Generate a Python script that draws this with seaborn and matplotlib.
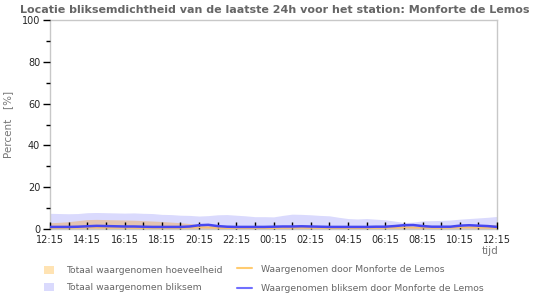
import numpy as np
import pandas as pd
import matplotlib
matplotlib.use("Agg")
import matplotlib.pyplot as plt
from matplotlib.patches import Patch
from matplotlib.lines import Line2D
import seaborn as sns

# half-hour steps from 12:15 to 12:15 next day (hours since start)
hours = [i * 0.5 for i in range(49)]
tick_labels = ["12:15", "14:15", "16:15", "18:15", "20:15", "22:15", "00:15",
               "02:15", "04:15", "06:15", "08:15", "10:15", "12:15"]

total_bliksem = [7.5, 7.4, 7.3, 7.4, 7.8, 7.9, 7.8, 7.7, 7.6, 7.7, 7.5, 7.4,
                 7.0, 6.9, 6.6, 6.5, 6.2, 6.4, 6.8, 6.9, 6.6, 6.3, 5.9, 5.9,
                 5.8, 6.5, 7.1, 7.0, 6.8, 6.5, 6.3, 5.6, 5.0, 4.8, 5.0, 4.7,
                 4.4, 3.8, 3.1, 3.3, 3.9, 4.0, 4.1, 4.3, 4.7, 5.0, 5.3, 5.6, 6.0]
total_hoeveelheid = [3.0, 3.2, 3.5, 4.0, 4.5, 4.6, 4.5, 4.4, 4.3, 4.2, 4.0, 3.8,
                     3.6, 3.3, 3.0, 2.6, 2.2, 2.0, 1.8, 1.5, 1.2, 1.0, 0.8, 0.8,
                     0.8, 1.0, 1.3, 1.3, 1.2, 1.1, 1.0, 0.9, 0.8, 0.8, 0.8, 0.9,
                     0.9, 1.2, 1.5, 1.4, 1.2, 1.1, 1.0, 1.1, 1.3, 1.6, 1.8, 2.0, 2.2]
station_hoeveelheid = [0.5, 0.5, 0.6, 0.6, 0.7, 0.7, 0.6, 0.6, 0.6, 0.5, 0.5, 0.5,
                       0.5, 0.5, 0.5, 0.6, 0.8, 0.7, 0.5, 0.4, 0.4, 0.4, 0.4, 0.4,
                       0.4, 0.5, 0.6, 0.6, 0.5, 0.5, 0.4, 0.4, 0.4, 0.4, 0.4, 0.5,
                       0.5, 0.6, 0.8, 0.7, 0.6, 0.5, 0.5, 0.6, 0.8, 0.8, 0.7, 0.6, 0.5]
station_bliksem = [1.0, 1.0, 1.0, 1.1, 1.3, 1.5, 1.4, 1.3, 1.2, 1.2, 1.1, 1.0,
                   1.0, 1.0, 1.0, 1.2, 1.8, 2.0, 1.4, 1.1, 1.0, 1.0, 1.0, 1.0,
                   1.1, 1.2, 1.2, 1.3, 1.2, 1.1, 1.0, 1.0, 1.0, 1.0, 1.0, 1.1,
                   1.1, 1.4, 1.8, 1.9, 1.4, 1.1, 1.1, 1.1, 1.6, 1.8, 1.6, 1.4, 1.0]

df = pd.DataFrame({"uur": hours, "tb": total_bliksem, "th": total_hoeveelheid,
                   "sh": station_hoeveelheid, "sb": station_bliksem})

sns.set_style("white")
plt.rcParams['font.family'] = ['DejaVu Sans']

fig = plt.figure(figsize=(5.5, 3.0), dpi=100)
ax = fig.add_axes([50/550, 1-229/300, 447/550, 209/300])

lav = "#dadafd"
ora = "#e3c3b0"
ax.fill_between(df["uur"], 0, df["tb"], color=lav, lw=0, zorder=1)
ax.fill_between(df["uur"], 0, df["th"], color=ora, lw=0, zorder=2)
sns.lineplot(data=df, x="uur", y="sh", ax=ax, color="#f5c070", lw=1.2, zorder=3)
sns.lineplot(data=df, x="uur", y="sb", ax=ax, color="#4848f0", lw=1.8, zorder=4)
ax.set_axisbelow(False)

ax.set_xlim(0, 24)
ax.set_ylim(0, 100)
ax.set_xticks(np.arange(0, 25, 2))
ax.set_xticklabels(tick_labels)
ax.set_xticks(np.arange(0, 25, 1), minor=True)
ax.set_yticks(np.arange(0, 101, 20))
ax.set_yticks(np.arange(0, 101, 10), minor=True)
ax.tick_params(axis="x", which="both", direction="in", length=5, width=1,
               color="black", labelsize=7, pad=4, bottom=True)
ax.tick_params(axis="y", which="major", direction="out", length=5, width=1,
               color="black", labelsize=7, pad=2, left=True)
ax.tick_params(axis="y", which="minor", direction="out", length=3, width=1,
               color="black", left=True)
for s in ax.spines.values():
    s.set_color("#c8c8c8")
    s.set_linewidth(1)
ax.set_xlabel("")
ax.set_ylabel("Percent   [%]", color="#777777", fontsize=7.5, labelpad=6)
fig.text(490/550, 1-251/300, "tijd", color="#777777", fontsize=7.5,
         ha="center", va="center")
fig.text(0.5, 1-10/300,
         "Locatie bliksemdichtheid van de laatste 24h voor het station: Monforte de Lemos",
         ha="center", va="center", fontsize=8.0, fontweight="bold", color="#666666")

h1 = [Patch(facecolor="#ffe3b3", edgecolor="none"), Patch(facecolor=lav, edgecolor="none")]
l1 = ["Totaal waargenomen hoeveelheid", "Totaal waargenomen bliksem"]
h2 = [Line2D([], [], color="#ffcc70", lw=1.5), Line2D([], [], color="#7070ff", lw=1.5)]
l2 = ["Waargenomen door Monforte de Lemos", "Waargenomen bliksem door Monforte de Lemos"]
leg1 = fig.legend(h1, l1, loc="center left", bbox_to_anchor=(36/550, 1-279/300),
                  frameon=False, fontsize=6.7, handlelength=1.0, handleheight=1.0,
                  handletextpad=1.3, labelspacing=0.85, labelcolor="#666666")
leg2 = fig.legend(h2, l2, loc="center left", bbox_to_anchor=(229/550, 1-279/300),
                  frameon=False, fontsize=6.7, handlelength=1.6,
                  handletextpad=0.9, labelspacing=1.15, labelcolor="#666666")

fig.savefig("out.png", dpi=100)
